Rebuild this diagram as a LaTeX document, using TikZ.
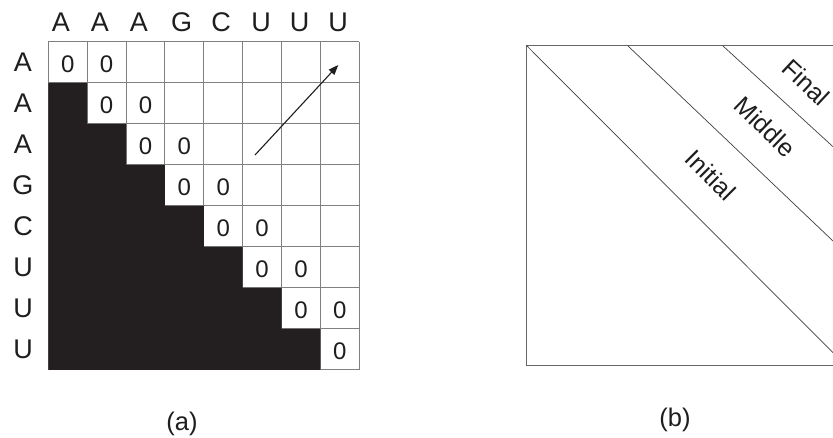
\documentclass[tikz,border=0pt]{standalone}
\usepackage{fontspec}
\setmainfont{Liberation Sans}
\usetikzlibrary{arrows.meta}
\definecolor{inkfill}{RGB}{35,31,32}
\definecolor{txt}{RGB}{30,30,30}
\begin{document}
\begin{tikzpicture}[x=1pt,y=-1pt,
  hdr/.style={font=\fontsize{27}{27}\selectfont, inner sep=0pt, text=txt},
  zero/.style={font=\fontsize{24}{24}\selectfont, inner sep=0pt, text=txt},
  caplabel/.style={font=\fontsize{25.5}{25.5}\selectfont, inner sep=0pt, text=txt},
  diag/.style={font=\fontsize{25}{25}\selectfont, inner sep=0pt, text=txt},
  gridline/.style={draw=black!50, line width=1pt},
  frame/.style={draw=black!60, line width=1pt},
  diagline/.style={draw=black!75, line width=0.7pt}]
\useasboundingbox (0,0) rectangle (833,438);
\clip (0,0) rectangle (833,438);
\fill[white] (0,0) rectangle (833,438);
\def\xo{48.3}\def\yo{42}\def\cw{38.875}\def\ch{41}
% grid
\foreach \i in {0,...,8}{
  \draw[gridline] ({\xo+\i*\cw},\yo) -- ({\xo+\i*\cw},{\yo+8*\ch});
  \draw[gridline] (\xo,{\yo+\i*\ch}) -- ({\xo+8*\cw},{\yo+\i*\ch});
}
% black staircase
\fill[inkfill] (\xo,{\yo+\ch})
  \foreach \c in {1,...,7}{ -- ({\xo+\c*\cw},{\yo+\c*\ch}) -- ({\xo+\c*\cw},{\yo+(\c+1)*\ch}) }
  -- (\xo,{\yo+8*\ch}) -- cycle;
% headers
\foreach \t/\x [count=\k] in {A/61,A/100,A/139,G/181.7,C/221,U/261,U/299.5,U/338}
  \node[hdr] (col\k) at (\x,22) {\t};
\foreach \t [count=\k from 0] in {A,A,A,G,C,U,U,U}
  \node[hdr] (row\k) at (23,{\yo+(\k+0.5)*\ch}) {\t};
% zeros
\foreach \r in {0,...,7}{
  \node[zero] (za\r) at ({\xo+(\r+0.5)*\cw},{\yo+(\r+0.5)*\ch+1.5}) {0};
}
\foreach \r in {0,...,6}{
  \node[zero] (zb\r) at ({\xo+(\r+1.5)*\cw},{\yo+(\r+0.5)*\ch+1.5}) {0};
}
% arrow
\coordinate (as) at (255,155);
\coordinate (ae) at (338.3,65);
\draw[line width=1.1pt, txt, -{Triangle[length=10pt,width=7.5pt]}] (as) -- (ae);
\node[caplabel] (la) at (182,424) {(a)};
% panel b
\draw[frame] (526.7,45.7) rectangle (845,365.5);
\coordinate (t1) at (526.7,45.7); \coordinate (e1) at (833,352.7);
\coordinate (t2) at (627.7,45.7); \coordinate (e2) at (833,241);
\coordinate (t3) at (722.7,45.7); \coordinate (e3) at (833,146.7);
\draw[diagline] (t1) -- (e1);
\draw[diagline] (t2) -- (e2);
\draw[diagline] (t3) -- (e3);
\node[diag, rotate=-45] (ini) at (710.7,175) {Initial};
\node[diag, rotate=-44] (mid) at (765,126.7) {Middle};
\node[diag, rotate=-43] (fin) at (806,82.5) {Final};
\node[caplabel] (lb) at (675,420) {(b)};
\end{tikzpicture}
\end{document}
